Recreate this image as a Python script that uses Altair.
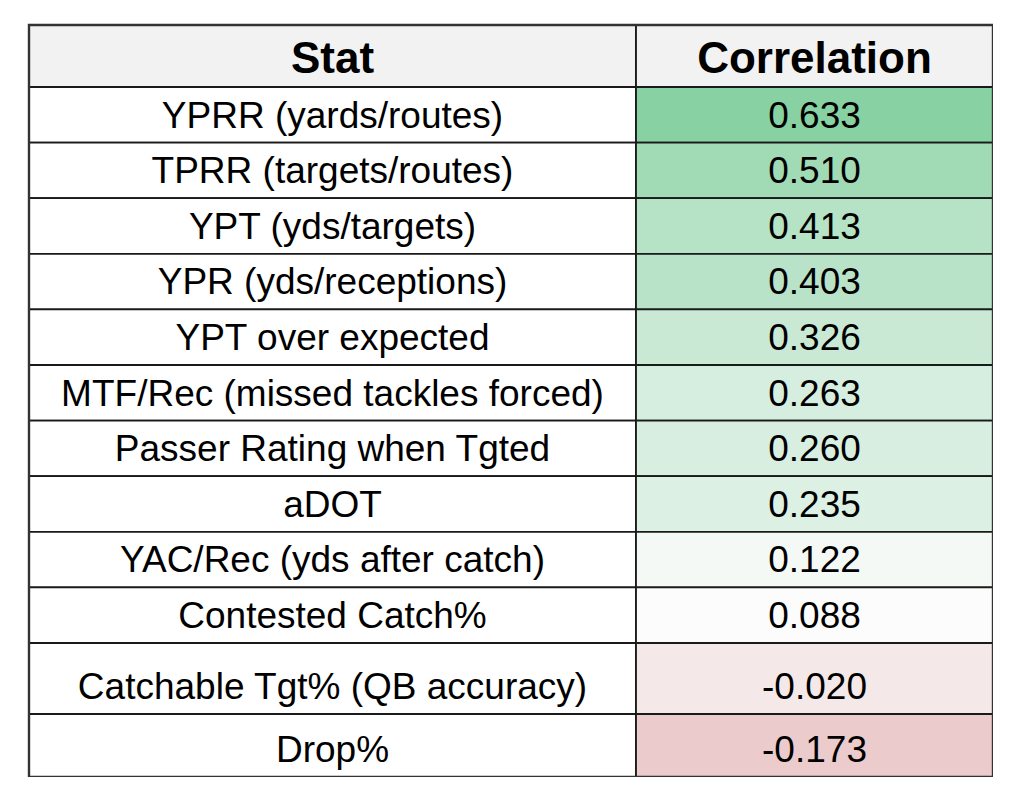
import altair as alt
import pandas as pd

# ---- data ----
stats = [
    "YPRR (yards/routes)",
    "TPRR (targets/routes)",
    "YPT (yds/targets)",
    "YPR (yds/receptions)",
    "YPT over expected",
    "MTF/Rec (missed tackles forced)",
    "Passer Rating when Tgted",
    "aDOT",
    "YAC/Rec (yds after catch)",
    "Contested Catch%",
    "Catchable Tgt% (QB accuracy)",
    "Drop%",
]
correlations = [0.633, 0.510, 0.413, 0.403, 0.326, 0.263, 0.260, 0.235, 0.122, 0.088, -0.020, -0.173]
headers = ["Stat", "Correlation"]

# ---- layout (pixels) ----
TOTAL_W = 964
COL_SPLIT = 607
HEADER_H = 62
row_heights = [55.6] * 10 + [71, 63]
TOTAL_H = HEADER_H + sum(row_heights)
BASE_OFF = 15

tops = []
y = HEADER_H
for h in row_heights:
    tops.append(y)
    y += h

df = pd.DataFrame({
    "stat": stats,
    "corr": correlations,
    "label": [f"{v:.3f}" for v in correlations],
    "top": tops,
    "bottom": [t + h for t, h in zip(tops, row_heights)],
})
df["base"] = df["bottom"] - BASE_OFF
df["x0"] = 0
df["x1"] = COL_SPLIT
df["x2"] = TOTAL_W
df["c1"] = COL_SPLIT / 2
df["c2"] = (COL_SPLIT + TOTAL_W) / 2

hdr = pd.DataFrame({
    "text": headers,
    "left": [0, COL_SPLIT],
    "right": [COL_SPLIT, TOTAL_W],
    "cx": [COL_SPLIT / 2, (COL_SPLIT + TOTAL_W) / 2],
    "top": [0, 0],
    "bottom": [HEADER_H, HEADER_H],
    "base": [HEADER_H - 14, HEADER_H - 14],
})

xs = alt.Scale(domain=[0, TOTAL_W], nice=False, zero=False)
ys = alt.Scale(domain=[0, TOTAL_H], nice=False, zero=False, reverse=True)

def X(f):
    return alt.X(f, type="quantitative", scale=xs, axis=None)

def Y(f):
    return alt.Y(f, type="quantitative", scale=ys, axis=None)

base = alt.Chart(df)
stroke = "#1a1a1a"

stat_cells = base.mark_rect(fill="white", stroke=stroke, strokeWidth=1.8).encode(
    x=X("x0"), x2="x1", y=Y("top"), y2="bottom"
)

corr_cells = base.mark_rect(stroke=stroke, strokeWidth=1.8).encode(
    x=X("x1"), x2="x2", y=Y("top"), y2="bottom",
    color=alt.Color(
        "corr:Q",
        scale=alt.Scale(
            domain=[min(correlations), 0.088, max(correlations)],
            range=["#ebcbcc", "#fcfcfc", "#87d1a2"],
            interpolate="rgb",
        ),
        legend=None,
    ),
)

hdr_base = alt.Chart(hdr)
hdr_cells = hdr_base.mark_rect(fill="#f2f2f2", stroke=stroke, strokeWidth=1.8).encode(
    x=X("left"), x2="right", y=Y("top"), y2="bottom"
)
hdr_text = hdr_base.mark_text(
    font="Liberation Sans", fontSize=44, fontWeight="bold", color="black",
    align="center", baseline="alphabetic",
).encode(x=X("cx"), y=Y("base"), text="text:N")

stat_text = base.mark_text(
    font="Liberation Sans", fontSize=37, color="black", align="center", baseline="alphabetic"
).encode(x=X("c1"), y=Y("base"), text="stat:N")

corr_text = base.mark_text(
    font="Liberation Sans", fontSize=37, color="black", align="center", baseline="alphabetic"
).encode(x=X("c2"), y=Y("base"), text="label:N")

outer = alt.Chart(pd.DataFrame({"a": [0], "b": [TOTAL_W], "t": [0], "u": [TOTAL_H]})).mark_rect(
    fill=None, stroke="#333333", strokeWidth=2.4
).encode(x=X("a"), x2="b", y=Y("t"), y2="u")

chart = alt.layer(
    stat_cells, corr_cells, hdr_cells, hdr_text, stat_text, corr_text, outer
).properties(
    width=TOTAL_W,
    height=TOTAL_H,
    autosize="none",
    padding={"left": 21, "top": 17, "right": 0, "bottom": 0},
    background="white",
).configure_view(stroke=None)

chart.save("out.html", embed_options={"renderer": "svg", "actions": False})
